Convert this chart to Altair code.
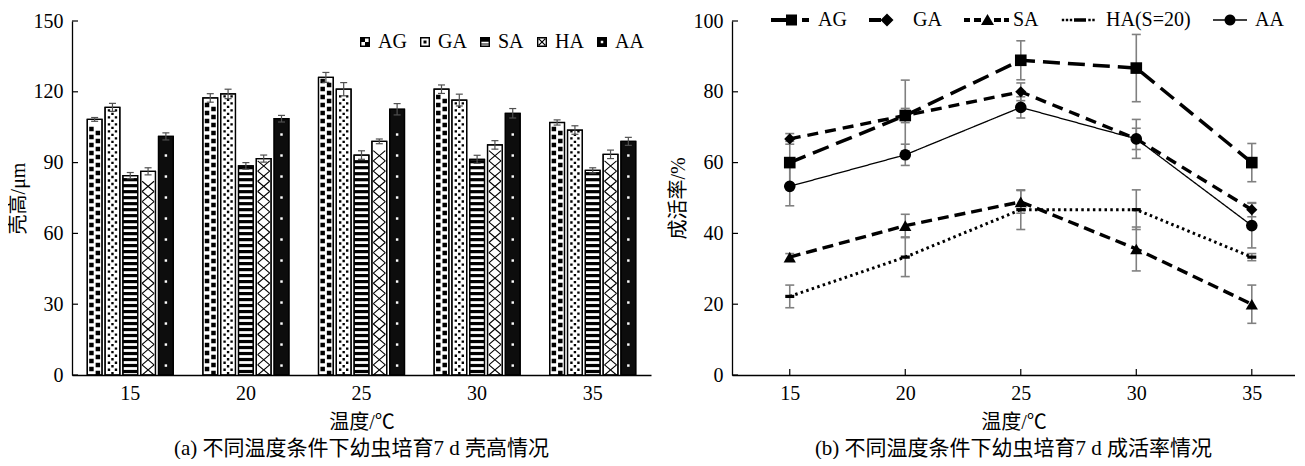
import altair as alt
import pandas as pd
import math

# ---------------- (a) shell height (μm) ----------------
temps = ["15", "20", "25", "30", "35"]
groups = ["AG", "GA", "SA", "HA", "AA"]

height_AG = [108.3, 117.4, 126.1, 121.1, 107.0]
height_GA = [113.4, 119.1, 121.1, 116.5, 103.8]
height_SA = [84.5, 88.6, 93.2, 91.4, 86.7]
height_HA = [86.3, 91.7, 99.0, 97.5, 93.5]
height_AA = [101.1, 108.6, 112.6, 110.9, 99.0]

height_err_AG = [0.8, 1.8, 2.1, 1.8, 1.1]
height_err_GA = [1.7, 2.0, 2.8, 2.5, 1.8]
height_err_SA = [1.3, 1.4, 1.8, 1.7, 1.1]
height_err_HA = [1.5, 1.5, 1.0, 1.8, 1.8]
height_err_AA = [1.5, 1.4, 2.4, 2.0, 1.7]

height_ticks = [0, 30, 60, 90, 120, 150]

# ---------------- (b) survival rate (%) ----------------
surv_temps = [15, 20, 25, 30, 35]
surv_groups = ["AG", "GA", "SA", "HA(S=20)", "AA"]

surv_AG = [60.0, 73.3, 88.9, 86.7, 60.0]
surv_GA = [66.7, 73.3, 80.0, 66.7, 46.7]
surv_SA = [33.3, 42.2, 48.9, 35.6, 20.0]
surv_HA = [22.2, 33.3, 46.7, 46.7, 33.3]
surv_AA = [53.3, 62.2, 75.6, 66.7, 42.2]

surv_err_AG = [6.0, 10.0, 5.5, 9.5, 5.4]
surv_err_GA = [1.5, 2.0, 2.5, 3.0, 2.0]
surv_err_SA = [1.0, 3.2, 3.2, 6.2, 5.4]
surv_err_HA = [3.2, 5.5, 5.6, 5.6, 1.0]
surv_err_AA = [5.5, 3.0, 3.0, 5.5, 6.3]

surv_ticks_y = [0, 20, 40, 60, 80, 100]

# ---------------- tables ----------------
rows = []
for g, vals, errs in zip(groups,
                         [height_AG, height_GA, height_SA, height_HA, height_AA],
                         [height_err_AG, height_err_GA, height_err_SA, height_err_HA, height_err_AA]):
    for t, v, e in zip(temps, vals, errs):
        rows.append({"temp": t, "grp": g, "value": v, "lo": v - e, "hi": v + e})
df_h = pd.DataFrame(rows)

rows = []
for g, vals, errs in zip(surv_groups,
                         [surv_AG, surv_GA, surv_SA, surv_HA, surv_AA],
                         [surv_err_AG, surv_err_GA, surv_err_SA, surv_err_HA, surv_err_AA]):
    for t, v, e in zip(surv_temps, vals, errs):
        rows.append({"temp": t, "sgrp": g, "value": v, "lo": v - e, "hi": v + e})
df_s = pd.DataFrame(rows)

FONT = "Liberation Serif, Noto Sans CJK SC"


# ---------------- symbol path helpers (style only) ----------------
def rect(x0, x1, y0, y1, u=1.0):
    a, b, c, d = x0 / u, x1 / u, y0 / u, y1 / u
    return f"M{a:.3f},{c:.3f}L{b:.3f},{c:.3f}L{b:.3f},{d:.3f}L{a:.3f},{d:.3f}Z"


def hole(x0, x1, y0, y1, u=1.0):
    a, b, c, d = x0 / u, x1 / u, y0 / u, y1 / u
    return f"M{a:.3f},{c:.3f}L{a:.3f},{d:.3f}L{b:.3f},{d:.3f}L{b:.3f},{c:.3f}Z"


def poly(pts, u=1.0):
    return "M" + "L".join(f"{x / u:.3f},{y / u:.3f}" for x, y in pts) + "Z"


def circle(cx, cy, r, u=1.0, n=20):
    pts = [(cx + r * math.cos(2 * math.pi * k / n), cy + r * math.sin(2 * math.pi * k / n)) for k in range(n)]
    return poly(pts, u)


# bar fill patterns
AG_PAT = rect(-0.78, -0.14, -0.61, 0.03) + rect(0.14, 0.78, -0.03, 0.61)
GA_PAT = rect(-0.67, -0.33, -0.42, -0.08) + rect(0.33, 0.67, -0.42, -0.08) + rect(-0.17, 0.17, 0.08, 0.42)
HA_PAT = "M-1,-0.85L1,0.85M-1,0.85L1,-0.85"

# left legend icons (unit square)
FRAME = rect(-1, 1, -1, 1) + hole(-0.72, 0.72, -0.72, 0.72)
LEFT_ICONS = [
    FRAME + rect(-0.72, 0.0, -0.72, 0.0) + rect(0.0, 0.72, 0.0, 0.72),
    FRAME + rect(-0.3, 0.3, -0.3, 0.3),
    FRAME + rect(-0.72, 0.72, -0.72, -0.05) + rect(-0.72, 0.72, 0.3, 0.5),
    FRAME + poly([(-0.72, -0.55), (-0.55, -0.72), (0.72, 0.55), (0.55, 0.72)])
          + poly([(0.55, -0.72), (0.72, -0.55), (-0.55, 0.72), (-0.72, 0.55)]),
    rect(-1, 1, -1, 1) + hole(-0.25, 0.25, -0.25, 0.25),
]

# right legend icons (pixel design, 10 px per unit)
U = 10.0
RIGHT_ICONS = [
    rect(-21, -6, -2, 2, U) + rect(-6, 5, -5.5, 5.5, U) + rect(10, 17, -2, 2, U),
    rect(-18, -6, -2, 2, U) + poly([(0, -6.5), (6.5, 0), (0, 6.5), (-6.5, 0)], U),
    rect(-23, -17, -2, 2, U) + rect(-13, -6, -2, 2, U)
    + poly([(0.5, -6), (7, 5), (-6, 5)], U) + rect(7, 14, -2, 2, U) + rect(17, 22, -2, 2, U),
    rect(-18.2, -15.8, -1.3, 1.3, U) + rect(-14.2, -11.8, -1.3, 1.3, U) + rect(-10.2, -7.8, -1.3, 1.3, U)
    + rect(-6, 6, -1.8, 1.8, U) + rect(8.3, 10.7, -1.3, 1.3, U) + rect(12.3, 14.7, -1.3, 1.3, U),
    rect(-16, 18, -0.7, 0.7, U) + circle(1, 0, 5.5, U),
]

# ================= (a) bar chart =================
W1, H = 579, 354

X1 = alt.X("temp:N", sort=temps,
           scale=alt.Scale(paddingInner=0.256, paddingOuter=0.132),
           axis=alt.Axis(title="温度/℃", labelAngle=0, ticks=False, labelPadding=8,
                         titlePadding=9))
XO1 = alt.XOffset("grp:N", sort=groups, scale=alt.Scale(paddingInner=0.17, paddingOuter=0.0))
YS1 = alt.Scale(domain=[0, 150], nice=False)
YAX1 = alt.Axis(title="壳高/μm", values=height_ticks, ticks=False, labelPadding=9, titlePadding=5)

base = alt.Chart(df_h)

bars = base.mark_bar(stroke="black", strokeWidth=1.2).encode(
    x=X1, xOffset=XO1,
    y=alt.Y("value:Q", scale=YS1, axis=YAX1),
    fill=alt.Fill("grp:N", scale=alt.Scale(domain=groups, range=["white", "white", "white", "white", "#0d0d0d"]),
                  legend=None),
)


def pattern(g, start, step, margin):
    return (base.transform_filter(alt.datum.grp == g)
            .transform_calculate(ys=f"sequence({start}, datum.value - {margin}, {step})")
            .transform_flatten(["ys"]))


sa_stripes = pattern("SA", 0.8, 2.54, 1.2).transform_calculate(ye="datum.ys + 1.36").mark_bar(
    color="black", strokeWidth=0).encode(
    x=X1, xOffset=XO1, y=alt.Y("ys:Q", scale=YS1, axis=YAX1), y2="ye:Q")

ag_pat = pattern("AG", 1.7, 3.39, 1.9).mark_point(
    shape=AG_PAT, size=196, filled=True, color="black", opacity=1, strokeWidth=0).encode(
    x=X1, xOffset=XO1, y=alt.Y("ys:Q", scale=YS1, axis=YAX1))

ga_pat = pattern("GA", 1.5, 2.97, 1.2).mark_point(
    shape=GA_PAT, size=196, filled=True, color="black", opacity=1, strokeWidth=0).encode(
    x=X1, xOffset=XO1, y=alt.Y("ys:Q", scale=YS1, axis=YAX1))

ha_pat = pattern("HA", 2.16, 4.32, 2.1).mark_point(
    shape=HA_PAT, size=144, filled=False, color="black", opacity=1, strokeWidth=1.1).encode(
    x=X1, xOffset=XO1, y=alt.Y("ys:Q", scale=YS1, axis=YAX1))

aa_pat = pattern("AA", 4.0, 8.9, 2.0).mark_square(
    size=6, color="white", opacity=1).encode(
    x=X1, xOffset=XO1, y=alt.Y("ys:Q", scale=YS1, axis=YAX1))

outline = base.mark_bar(fillOpacity=0, stroke="black", strokeWidth=1.3).encode(
    x=X1, xOffset=XO1, y=alt.Y("value:Q", scale=YS1, axis=YAX1))

err_rule = base.mark_rule(color="#505050", strokeWidth=1.2).encode(
    x=X1, xOffset=XO1, y=alt.Y("lo:Q", scale=YS1, axis=YAX1), y2="hi:Q")
err_hi = base.mark_tick(orient="horizontal", size=7, thickness=1.2, color="#505050", opacity=1).encode(
    x=X1, xOffset=XO1, y=alt.Y("hi:Q", scale=YS1, axis=YAX1))
err_lo = base.mark_tick(orient="horizontal", size=7, thickness=1.2, color="#505050", opacity=1).encode(
    x=X1, xOffset=XO1, y=alt.Y("lo:Q", scale=YS1, axis=YAX1))

ticks1 = alt.Chart(pd.DataFrame({"t": height_ticks})).mark_rule(color="black", strokeWidth=1.2).encode(
    x=alt.value(0), x2=alt.value(6), y=alt.Y("t:Q", scale=YS1, axis=YAX1))

legend1 = base.mark_point(filled=True, color="black", opacity=0, size=100).encode(
    x=X1, xOffset=XO1, y=alt.Y("value:Q", scale=YS1, axis=YAX1),
    shape=alt.Shape("grp:N", sort=groups, scale=alt.Scale(domain=groups, range=LEFT_ICONS),
                    legend=alt.Legend(title=None, orient="none", legendX=283, legendY=11,
                                      direction="horizontal", columns=5, symbolSize=100,
                                      symbolStrokeWidth=0, symbolOpacity=1, symbolFillColor="black",
                                      labelOffset=3, columnPadding=8, padding=0)))

left = alt.layer(bars, sa_stripes, ag_pat, ga_pat, ha_pat, aa_pat, outline,
                 err_rule, err_hi, err_lo, ticks1, legend1).properties(
    width=W1, height=H,
    title=alt.TitleParams("(a) 不同温度条件下幼虫培育7 d 壳高情况", orient="bottom", anchor="middle",
                          frame="group", fontSize=21, font=FONT, fontWeight="normal", color="black",
                          offset=6))

# ================= (b) line chart =================
W2 = 563
XS2 = alt.Scale(domain=[12.5, 36.87], nice=False, zero=False)
XAX2 = alt.Axis(title="温度/℃", values=surv_temps, ticks=False, labelPadding=8, titlePadding=9)
YS2 = alt.Scale(domain=[0, 100], nice=False)
YAX2 = alt.Axis(title="成活率/%", values=surv_ticks_y, ticks=False, labelPadding=9, titlePadding=5)
X2 = alt.X("temp:Q", scale=XS2, axis=XAX2)

base2 = alt.Chart(df_s)

err2 = base2.mark_rule(color="#808080", strokeWidth=1.6).encode(
    x=X2, y=alt.Y("lo:Q", scale=YS2, axis=YAX2), y2="hi:Q")
err2_hi = base2.mark_tick(orient="horizontal", size=9, thickness=1.6, color="#808080", opacity=1).encode(
    x=X2, y=alt.Y("hi:Q", scale=YS2, axis=YAX2))
err2_lo = base2.mark_tick(orient="horizontal", size=9, thickness=1.6, color="#808080", opacity=1).encode(
    x=X2, y=alt.Y("lo:Q", scale=YS2, axis=YAX2))

line_dash = [[17, 8], [11, 7], [11, 6], [2.5, 3.3], [1, 0]]
line_width = [3.5, 3.4, 3.4, 3.0, 1.3]
marker_shape = ["square", "diamond", "triangle-up", "M-1,-0.36L1,-0.36L1,0.36L-1,0.36Z", "circle"]
marker_size = [135, 125, 150, 81, 135]

lines, markers = [], []
for g, d, sw, shp, sz in zip(surv_groups, line_dash, line_width, marker_shape, marker_size):
    sub = base2.transform_filter(alt.datum.sgrp == g)
    lines.append(sub.mark_line(color="black", strokeDash=d, strokeWidth=sw, strokeCap="butt").encode(
        x=X2, y=alt.Y("value:Q", scale=YS2, axis=YAX2)))
    markers.append(sub.mark_point(shape=shp, size=sz, filled=True, color="black", opacity=1,
                                  strokeWidth=0).encode(
        x=X2, y=alt.Y("value:Q", scale=YS2, axis=YAX2)))

yticks2 = alt.Chart(pd.DataFrame({"t": surv_ticks_y})).mark_rule(color="black", strokeWidth=1.2).encode(
    x=alt.value(0), x2=alt.value(6), y=alt.Y("t:Q", scale=YS2, axis=YAX2))
xticks2 = alt.Chart(pd.DataFrame({"t": surv_temps})).mark_rule(color="black", strokeWidth=1.2).encode(
    x=alt.X("t:Q", scale=XS2, axis=XAX2), y=alt.value(H), y2=alt.value(H - 6))

legend2 = base2.mark_point(filled=True, color="black", opacity=0, size=400).encode(
    x=X2, y=alt.Y("value:Q", scale=YS2, axis=YAX2),
    shape=alt.Shape("sgrp:N", sort=surv_groups, scale=alt.Scale(domain=surv_groups, range=RIGHT_ICONS),
                    legend=alt.Legend(title=None, orient="none", legendX=50, legendY=-11,
                                      direction="horizontal", columns=5, symbolSize=400,
                                      symbolStrokeWidth=0, symbolOpacity=1, symbolFillColor="black",
                                      labelOffset=16, columnPadding=22, padding=0)))

right = alt.layer(err2, err2_hi, err2_lo, *lines, *markers, yticks2, xticks2, legend2).properties(
    width=W2, height=H,
    title=alt.TitleParams("(b) 不同温度条件下幼虫培育7 d 成活率情况", orient="bottom", anchor="middle",
                          frame="group", fontSize=21, font=FONT, fontWeight="normal", color="black",
                          offset=6))

chart = alt.hconcat(left, right, spacing=81, bounds="flush").resolve_scale(
    shape="independent", x="independent", y="independent"
).resolve_legend(shape="independent").properties(
    padding={"left": 0, "top": 2, "right": 0, "bottom": 0}, background="white"
).configure_view(stroke=None).configure_axis(
    grid=False, domainColor="black", domainWidth=1.3,
    labelFont=FONT, labelFontSize=20, labelColor="black",
    titleFont=FONT, titleFontSize=20, titleFontWeight="normal", titleColor="black",
).configure_legend(
    labelFont=FONT, labelFontSize=20, labelColor="black"
)

chart.save("out.html", embed_options={"renderer": "svg", "actions": False})
